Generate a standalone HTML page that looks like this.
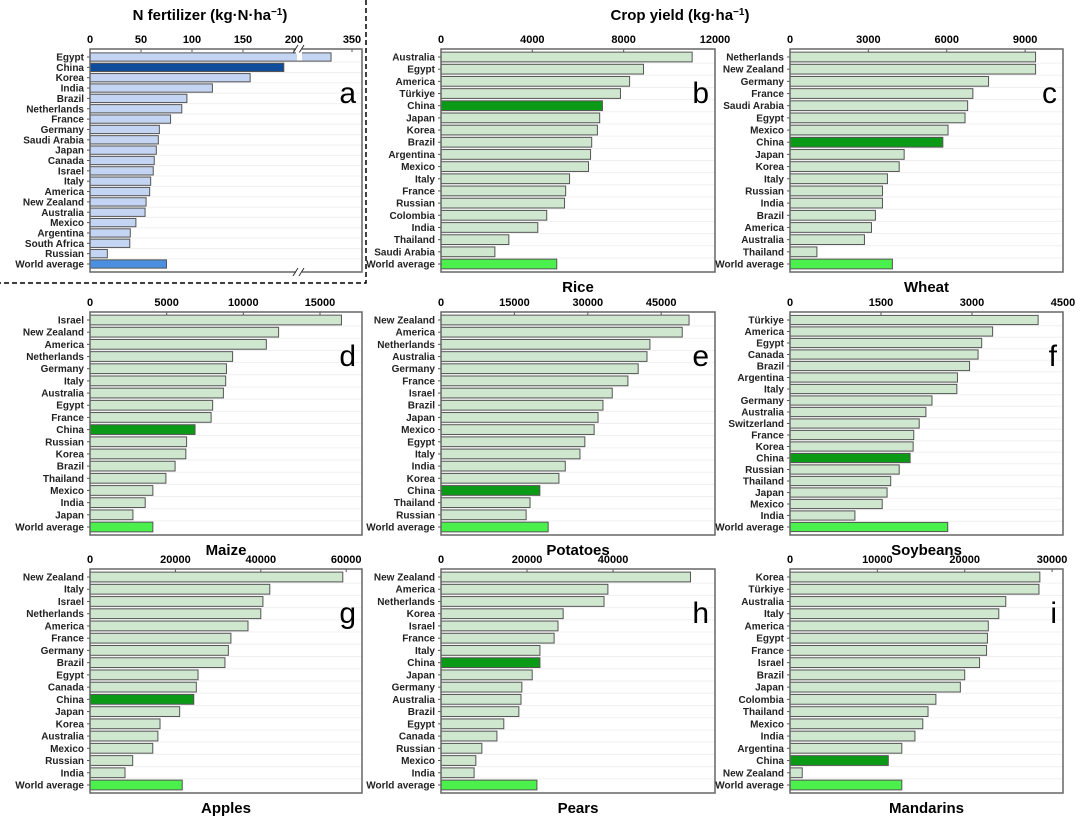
<!DOCTYPE html>
<html><head><meta charset="utf-8"><style>
body{margin:0;background:#fff;}
svg{display:block;font-family:"Liberation Sans",Arial,sans-serif;}
</style></head><body>
<svg id="fig" width="1080" height="818" viewBox="0 0 1080 818">
<text x="210" y="20" text-anchor="middle" font-size="15" font-weight="bold">N fertilizer (kg·N·ha<tspan baseline-shift="super" font-size="10">−1</tspan>)</text>
<text x="680" y="20" text-anchor="middle" font-size="15" font-weight="bold">Crop yield (kg·ha<tspan baseline-shift="super" font-size="10">−1</tspan>)</text>
<path d="M366 0 V283 H0" fill="none" stroke="#000" stroke-width="1.5" stroke-dasharray="5,3"/>
</svg>
<script>
const aCats=["Egypt","China","Korea","India","Brazil","Netherlands","France","Germany","Saudi Arabia","Japan","Canada","Israel","Italy","America","New Zealand","Australia","Mexico","Argentina","South Africa","Russian","World average"];
const aVals=[288,190,157,120,95,90,79,68,67,65,63,62,59.5,58.5,55,54,45,39.5,39,17,75];
const aTicks=[0,50,100,150,200,350];

const bCats=["Australia","Egypt","America","Türkiye","China","Japan","Korea","Brazil","Argentina","Mexico","Italy","France","Russian","Colombia","India","Thailand","Saudi Arabia","World average"];
const bVals=[11000,8870,8260,7860,7070,6950,6850,6600,6550,6460,5630,5460,5410,4630,4240,2970,2360,5070];
const bTicks=[0,4000,8000,12000];

const cCats=["Netherlands","New Zealand","Germany","France","Saudi Arabia","Egypt","Mexico","China","Japan","Korea","Italy","Russian","India","Brazil","America","Australia","Thailand","World average"];
const cVals=[9400,9400,7600,7000,6800,6700,6050,5850,4370,4180,3730,3540,3540,3270,3120,2850,1030,3920];
const cTicks=[0,3000,6000,9000];

const dCats=["Israel","New Zealand","America","Netherlands","Germany","Italy","Australia","Egypt","France","China","Russian","Korea","Brazil","Thailand","Mexico","India","Japan","World average"];
const dVals=[16400,12300,11500,9300,8900,8850,8700,8000,7900,6850,6300,6250,5550,4950,4100,3600,2800,4100];
const dTicks=[0,5000,10000,15000];

const eCats=["New Zealand","America","Netherlands","Australia","Germany","France","Israel","Brazil","Japan","Mexico","Egypt","Italy","India","Korea","China","Thailand","Russian","World average"];
const eVals=[50700,49300,42700,42100,40300,38200,35000,33100,32100,31300,29400,28400,25400,24100,20200,18200,17400,21900];
const eTicks=[0,15000,30000,45000];

const fCats=["Türkiye","America","Egypt","Canada","Brazil","Argentina","Italy","Germany","Australia","Switzerland","France","Korea","China","Russian","Thailand","Japan","Mexico","India","World average"];
const fVals=[4090,3340,3160,3100,2960,2760,2750,2340,2240,2130,2040,2030,1980,1800,1660,1600,1520,1070,2600];
const fTicks=[0,1500,3000,4500];

const gCats=["New Zealand","Italy","Israel","Netherlands","America","France","Germany","Brazil","Egypt","Canada","China","Japan","Korea","Australia","Mexico","Russian","India","World average"];
const gVals=[59200,42100,40500,40000,37000,33000,32400,31600,25300,24900,24300,21000,16400,15900,14700,10000,8200,21600];
const gTicks=[0,20000,40000,60000];

const hCats=["New Zealand","America","Netherlands","Korea","Israel","France","Italy","China","Japan","Germany","Australia","Brazil","Egypt","Canada","Russian","Mexico","India","World average"];
const hVals=[58000,38800,37900,28400,27200,26300,23000,23000,21200,18800,18600,18100,14600,13000,9500,8100,7700,22300];
const hTicks=[0,20000,40000];

const iCats=["Korea","Türkiye","Australia","Italy","America","Egypt","France","Israel","Brazil","Japan","Colombia","Thailand","Mexico","India","Argentina","China","New Zealand","World average"];
const iVals=[28600,28500,24700,23900,22700,22600,22500,21700,20000,19500,16700,15800,15200,14300,12800,11250,1400,12800];
const iTicks=[0,10000,20000,30000];

const NS="http://www.w3.org/2000/svg";
const svg=document.getElementById('fig');
function mk(tag,attrs,parent){const e=document.createElementNS(NS,tag);for(const k in attrs)e.setAttribute(k,attrs[k]);(parent||svg).appendChild(e);return e;}

function panel(id,cats,vals,ticks,box,max,title,letter,colors,xfun){
  const g=mk('g',{});
  
  
  const x=xfun||(v=>box.l+(v/max)*(box.r-box.l));
  const n=cats.length, pad=8;
  const step=(box.b-box.t-2*pad)/(n-1);
  const bh=step*0.8;
  // faint grid
  for(let i=0;i<n;i++){const cy=box.t+pad+i*step+step/2;
    if(i<n-1){const gl=mk('line',{x1:box.l,x2:box.r,y1:cy,y2:cy,stroke:'#f0f0f0','stroke-width':1},g);
    
    }}
  for(let i=0;i<n;i++){
    const cy=box.t+pad+i*step;
    let fill=colors.base;
    if(cats[i]==="China")fill=colors.china;
    if(cats[i]==="World average")fill=colors.world;
    const r=mk('rect',{x:box.l,y:cy-bh/2,width:Math.max(0,x(vals[i])-box.l),height:bh,fill:fill,stroke:'#555','stroke-width':1},g);
    
    
    const t=mk('text',{x:box.l-6,y:cy+3.5,'text-anchor':'end','font-size':10,'font-weight':'bold',fill:'#222'},g);
    t.textContent=cats[i];
    
    
    mk('line',{x1:box.l-3,x2:box.l,y1:cy,y2:cy,stroke:'#555'},g);
  }
  ticks.forEach(v=>{const tx=x(v);
    const t=mk('text',{x:tx,y:box.t-6,'text-anchor':'middle','font-size':11,'font-weight':'bold'},g);
    t.textContent=v;
    
    
    mk('line',{x1:tx,x2:tx,y1:box.t,y2:box.t+3,stroke:'#555'},g);});
  const fr=mk('rect',{x:box.l,y:box.t,width:box.r-box.l,height:box.b-box.t,fill:'none',stroke:'#666','stroke-width':1.5},g);
  
  
  const lt=mk('text',{x:box.r-6,y:box.t+54,'text-anchor':'end','font-size':30},g);
  lt.textContent=letter;
  
  
  if(title){const tt=mk('text',{x:(box.l+box.r)/2,y:box.b+20,'text-anchor':'middle','font-size':15,'font-weight':'bold'},g);
    tt.textContent=title;
    
    }
  return x;
}
const green={base:'#cfe6cf',china:'#0a9a16',world:'#4cf04c'};
const blue={base:'#c4d5f4',china:'#0d4d9c',world:'#4a8fe0'};
const R1={t:49,b:272},R2={t:312,b:535},R3={t:569,b:793};
const L={l:90,r:362},M={l:441,r:715},Rc={l:790,r:1063};
// panel a with axis break
const ax=v=> v<=205 ? 90+v*1.02 : 303+(v-205)*(352-303)/(350-205);
panel('a',aCats,aVals,aTicks,{...L,...R1},350,null,'a',blue,ax);
// break marks
[R1.t,R1.b].forEach(yy=>{mk('rect',{x:296,y:yy-5,width:6,height:10,fill:'#fff'});
  mk('line',{x1:293,x2:298,y1:yy+4,y2:yy-4,stroke:'#333'});mk('line',{x1:299,x2:304,y1:yy+4,y2:yy-4,stroke:'#333'});});
mk('rect',{x:297,y:R1.t+3.5,width:5,height:8,fill:'#fff'});
panel('b',bCats,bVals,bTicks,{...M,...R1},12000,'Rice','b',green);
panel('c',cCats,cVals,cTicks,{...Rc,...R1},10450,'Wheat','c',green);
panel('d',dCats,dVals,dTicks,{...L,...R2},17740,'Maize','d',green);
panel('e',eCats,eVals,eTicks,{...M,...R2},56000,'Potatoes','e',green);
panel('f',fCats,fVals,fTicks,{...Rc,...R2},4500,'Soybeans','f',green);
panel('g',gCats,gVals,gTicks,{...L,...R3},63700,'Apples','g',green);
panel('h',hCats,hVals,hTicks,{...M,...R3},63700,'Pears','h',green);
panel('i',iCats,iVals,iTicks,{...Rc,...R3},31250,'Mandarins','i',green);
</script>
</body></html>
